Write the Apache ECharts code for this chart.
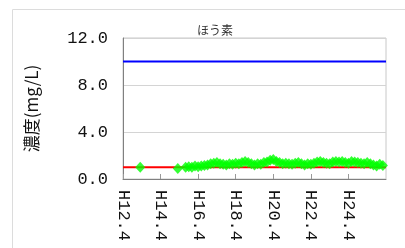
<!DOCTYPE html>
<html>
<head>
<meta charset="utf-8">
<script src="https://cdn.jsdelivr.net/npm/echarts@6/dist/echarts.min.js"></script>
<style>
  html, body { margin: 0; padding: 0; background: #fff; }
  #chart { width: 405px; height: 248px; }
</style>
</head>
<body>
<div id="chart"></div>
<script>
// months counted from H12.4 (April 2000)
const tickLabels = ["H12.4", "H14.4", "H16.4", "H18.4", "H20.4", "H22.4", "H24.4"];
const yTickLabels = ["0.0", "4.0", "8.0", "12.0"];

const sparseMonths = [11, 35];
const sparseValues = [1.0, 0.9];

const denseMonths = [
  40, 42, 44, 46, 48, 50, 52, 54, 56, 58, 60, 62, 64, 66, 68, 70,
  72, 74, 76, 78, 80, 82, 84, 86, 88, 90, 92, 94, 96, 98, 100, 102,
  104, 106, 108, 110, 112, 114, 116, 118, 120, 122, 124, 126, 128, 130, 132, 134,
  136, 138, 140, 142, 144, 146, 148, 150, 152, 154, 156, 158, 160, 162, 164, 166
];
const denseValues = [
  1.0, 1.05, 1.0, 1.1, 1.05, 1.1, 1.15, 1.2, 1.3, 1.35, 1.4, 1.3, 1.25, 1.2, 1.3, 1.25,
  1.35, 1.3, 1.4, 1.5, 1.4, 1.3, 1.2, 1.3, 1.25, 1.4, 1.45, 1.6, 1.65, 1.5, 1.4, 1.3,
  1.35, 1.3, 1.25, 1.35, 1.4, 1.3, 1.2, 1.3, 1.25, 1.35, 1.45, 1.5, 1.4, 1.35, 1.3, 1.45,
  1.5, 1.45, 1.5, 1.4, 1.35, 1.5, 1.45, 1.4, 1.35, 1.3, 1.4, 1.3, 1.2, 1.1, 1.25, 1.15
];

const standardValue = 10.0;   // blue
const guideValue = 1.0;       // red
const xMin = 0;
const xMax = 168;

const monoFont = "'Liberation Mono', 'DejaVu Sans Mono', monospace";
const cjkFont = "'Noto Sans CJK JP', sans-serif";

const chart = echarts.init(document.getElementById("chart"));

const points = sparseMonths.map((m, i) => [m, sparseValues[i]])
  .concat(denseMonths.map((m, i) => [m, denseValues[i]]));

const option = {
  animation: false,
  graphic: [
    {
      type: "rect",
      shape: { x: 12.5, y: 9.5, width: 420, height: 260 },
      style: { fill: "none", stroke: "#dcdcdc", lineWidth: 1 },
      silent: true,
    },
  ],
  title: {
    text: "ほう素",
    left: 192,
    top: 19,
    textStyle: { fontFamily: cjkFont, fontSize: 12, fontWeight: "normal", color: "#333" },
  },
  grid: {
    left: 123,
    top: 38,
    width: 263,
    height: 141,
    show: true,
    borderColor: "#c8c8c8",
    borderWidth: 1,
    containLabel: false,
  },
  xAxis: {
    type: "value",
    min: xMin,
    max: xMax,
    interval: 24,
    splitLine: { show: false },
    axisLine: { lineStyle: { color: "#808080", width: 1 } },
    axisTick: { inside: true, length: 5, lineStyle: { color: "#999" } },
    axisLabel: {
      rotate: -90,
      margin: 11,
      fontFamily: monoFont,
      fontSize: 17,
      color: "#111",
      showMaxLabel: false,
      formatter: (v) => tickLabels[v / 24] || "",
    },
  },
  yAxis: {
    type: "value",
    min: 0,
    max: 12,
    interval: 4,
    name: "濃度(mg/L)",
    nameLocation: "middle",
    nameRotate: 90,
    nameGap: 83,
    nameTextStyle: { fontFamily: cjkFont, fontSize: 17, color: "#111" },
    axisLine: { show: true, lineStyle: { color: "#808080", width: 1 } },
    axisTick: { show: false },
    splitLine: { lineStyle: { color: "#d4d4d4", width: 1 } },
    axisLabel: {
      margin: 15,
      fontFamily: monoFont,
      fontSize: 17,
      color: "#111",
      formatter: (v) => yTickLabels[v / 4],
    },
  },
  series: [
    {
      type: "line",
      data: [[xMin, standardValue], [xMax, standardValue]],
      symbol: "none",
      lineStyle: { color: "#0000ff", width: 2 },
      z: 2,
    },
    {
      type: "line",
      data: [[xMin, guideValue], [xMax, guideValue]],
      symbol: "none",
      lineStyle: { color: "#ff0000", width: 2 },
      z: 2,
    },
    {
      type: "scatter",
      data: points,
      symbol: "diamond",
      symbolSize: [10, 11],
      itemStyle: { color: "#00ff00" },
      z: 3,
    },
  ],
};

chart.setOption(option);
window.addEventListener("resize", () => chart.resize());
</script>
</body>
</html>
